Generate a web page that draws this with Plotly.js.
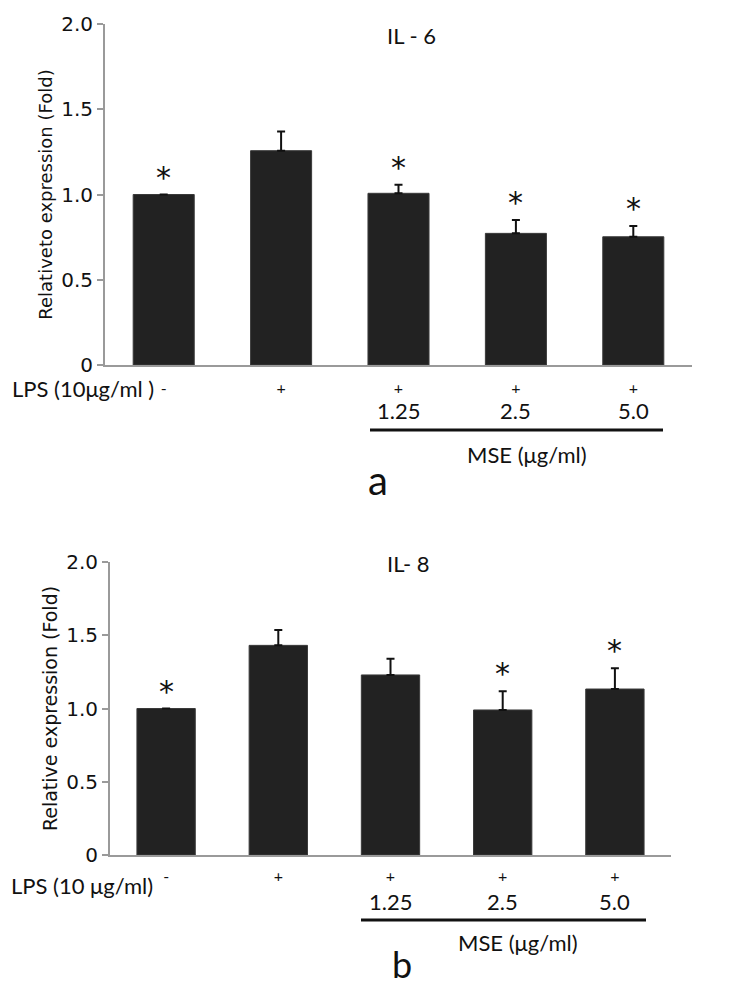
<!DOCTYPE html>
<html>
<head>
<meta charset="utf-8">
<script src="https://cdn.plot.ly/plotly-3.0.1.min.js"></script>
<style>html,body{margin:0;padding:0;background:#fff;}#chart{width:738px;height:990px;}</style>
</head>
<body>
<div id="chart"></div>
<script>
// ---- data ----
const groups = ["Control", "LPS", "LPS + MSE 1.25", "LPS + MSE 2.5", "LPS + MSE 5.0"];
const lpsSigns = ["-", "+", "+", "+", "+"];
const mseDoses = ["", "", "1.25", "2.5", "5.0"];
const il6Mean = [1.0, 1.257, 1.007, 0.772, 0.752];
const il6Err = [0, 0.113, 0.05, 0.078, 0.063];
const il6Sig = [true, false, true, true, true];
const il8Mean = [1.0, 1.431, 1.229, 0.99, 1.133];
const il8Err = [0, 0.105, 0.11, 0.127, 0.141];
const il8Sig = [true, false, false, true, true];
const yTickVals = [0, 0.5, 1, 1.5, 2];
const yTickText = ["0", "0.5", "1.0", "1.5", "2.0"];

// ---- styles ----
const W = 738, H = 990;
const px = v => v / W;
const py = v => 1 - v / H;
const CAL = "Lato, 'Open Sans', sans-serif";
const VER = "'DejaVu Sans', Verdana, sans-serif";
const barColor = "#222222";
const axisGrey = "#9a9a9a";

function barTrace(means, errs, xa, ya) {
  return {
    type: "bar", x: groups, y: means, xaxis: xa, yaxis: ya,
    marker: {color: barColor, line: {color: "#3a3a3a", width: 1}},
    error_y: {type: "data", symmetric: false, array: errs, arrayminus: errs.map(() => 0),
              visible: true, color: "#111", thickness: 2, width: 4},
    hoverinfo: "skip", showlegend: false
  };
}

function yAxis(domain, title, titleSize, anchor) {
  return {
    domain: domain, anchor: anchor, range: [0, 2], fixedrange: true,
    tickvals: yTickVals, ticktext: yTickText,
    tickfont: {family: VER, size: 20, color: "#111"},
    ticks: "outside", ticklen: 6, tickwidth: 2, tickcolor: axisGrey,
    showline: true, linecolor: axisGrey, linewidth: 2,
    showgrid: false, zeroline: false,
    title: {text: title, font: {family: VER, size: titleSize, color: "#111"}, standoff: 4}
  };
}
function xAxis(domain, anchor, standoff) {
  return {
    domain: domain, anchor: anchor, type: "category", fixedrange: true,
    tickvals: groups, ticktext: lpsSigns,
    tickfont: {family: CAL, size: 16, color: "#111"},
    ticks: "", ticklabelstandoff: standoff,
    showline: true, linecolor: axisGrey, linewidth: 2,
    showgrid: false, zeroline: false
  };
}

const traces = [
  barTrace(il6Mean, il6Err, "x", "y"),
  barTrace(il8Mean, il8Err, "x2", "y2")
];

const annotations = [];
function sigStars(means, errs, sig, xa, ya) {
  means.forEach((m, i) => {
    if (!sig[i]) return;
    annotations.push({
      xref: xa, yref: ya, x: groups[i], y: m + errs[i],
      text: "*", showarrow: false, yanchor: "bottom", yshift: -2,
      font: {family: VER, size: 30, color: "#111"}
    });
  });
}
sigStars(il6Mean, il6Err, il6Sig, "x", "y");
sigStars(il8Mean, il8Err, il8Sig, "x2", "y2");

function doseLabels(xa, yPix) {
  mseDoses.forEach((d, i) => {
    if (!d) return;
    annotations.push({
      xref: xa, yref: "paper", x: groups[i], y: py(yPix), yanchor: "middle",
      text: d, showarrow: false, font: {family: CAL, size: 22, color: "#111"}
    });
  });
}
doseLabels("x", 410);
doseLabels("x2", 901);

function txt(text, xPix, yPix, size, xanchor) {
  annotations.push({
    xref: "paper", yref: "paper", x: px(xPix), y: py(yPix),
    xanchor: xanchor || "center", yanchor: "middle",
    text: text, showarrow: false, font: {family: CAL, size: size, color: "#111"}
  });
}
// panel a
txt("IL - 6", 411, 35, 22);
txt("LPS (10\u03bcg/ml )", 10, 388, 22, "left");
txt("MSE (\u03bcg/ml)", 527, 455, 22);
txt("a", 378, 480, 40);
// panel b
txt("IL- 8", 408, 563, 22);
txt("LPS (10 \u03bcg/ml)", 9, 885, 22, "left");
txt("MSE (\u03bcg/ml)", 518, 942, 22);
txt("b", 402, 964, 36);

const shapes = [
  {type: "line", xref: "paper", yref: "paper", x0: px(370), x1: px(663), y0: py(430), y1: py(430), line: {color: "#111", width: 3}},
  {type: "line", xref: "paper", yref: "paper", x0: px(361), x1: px(646), y0: py(920), y1: py(920), line: {color: "#111", width: 3}}
];

const layout = {
  width: W, height: H,
  margin: {l: 0, r: 0, t: 0, b: 0},
  paper_bgcolor: "#fff", plot_bgcolor: "#fff",
  bargap: 0.48,
  showlegend: false,
  xaxis: xAxis([px(105), px(692)], "y", 8),
  yaxis: yAxis([py(365), py(24)], "Relativeto expression (Fold)", 18, "x"),
  xaxis2: xAxis([px(110), px(671)], "y2", 6),
  yaxis2: yAxis([py(855), py(562)], "Relative expression (Fold)", 19, "x2"),
  annotations: annotations,
  shapes: shapes,
  font: {family: CAL, color: "#111"}
};

Plotly.newPlot("chart", traces, layout, {displayModeBar: false, staticPlot: true});
</script>
</body>
</html>
